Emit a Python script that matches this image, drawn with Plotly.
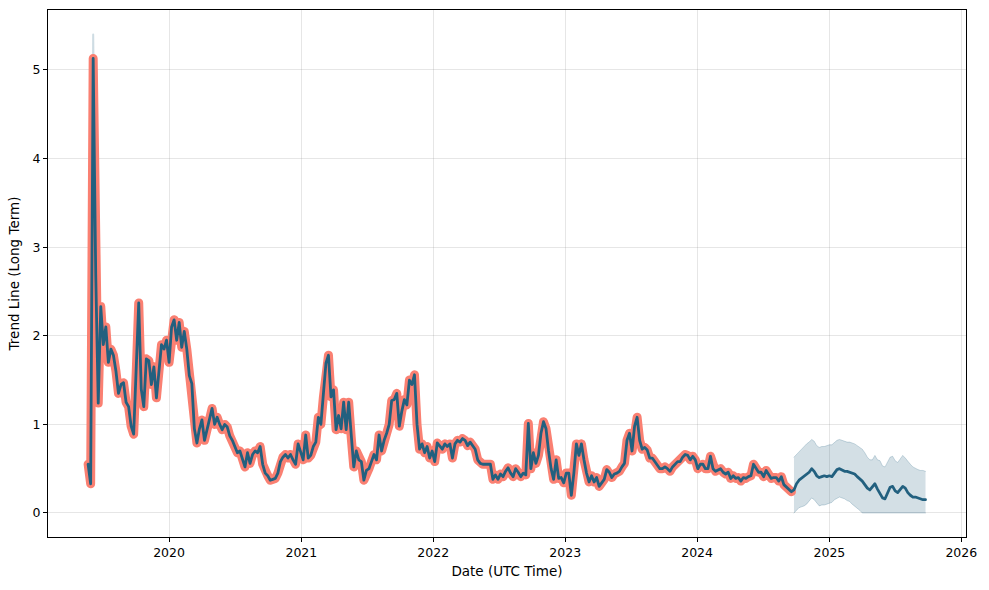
import pandas as pd
import plotly.graph_objects as go

# Historical weekly values (observed / fitted trend), starting 2019-05-22
hist_start = "2019-05-22"
hist_values = [
    0.55, 0.33, 5.13, 2.7, 1.24, 2.33, 1.9, 2.1, 1.7, 1.85,
    1.78, 1.6, 1.35, 1.45, 1.47, 1.25, 1.2, 0.98, 0.89, 1.58,
    2.37, 1.4, 1.2, 1.74, 1.72, 1.45, 1.65, 1.3, 1.6, 1.9,
    1.85, 1.95, 1.7, 2.1, 2.18, 1.95, 2.15, 1.87, 2.05, 1.85,
    1.55, 1.46, 0.95, 0.79, 0.95, 1.05, 0.82, 0.95, 1.05, 1.18,
    1.0, 1.08, 1.0, 0.94, 1.0, 0.97, 0.87, 0.82, 0.75, 0.68,
    0.7, 0.6, 0.52, 0.68, 0.56, 0.66, 0.7, 0.68, 0.75, 0.55,
    0.45, 0.42, 0.37, 0.38, 0.39, 0.45, 0.58, 0.63, 0.66, 0.62,
    0.66, 0.6, 0.55, 0.78, 0.68, 0.6, 0.88, 0.62, 0.65, 0.75,
    0.8, 1.08, 1.0, 1.31, 1.69, 1.78, 1.31, 1.39, 0.94, 1.1,
    0.95, 1.25, 0.94, 1.25, 0.85, 0.52, 0.7, 0.6, 0.58, 0.37,
    0.48, 0.5, 0.58, 0.66, 0.6, 0.88, 0.7, 0.82, 0.9, 1.0,
    1.27, 1.28, 1.35, 0.98, 1.15, 1.28, 1.22, 1.5, 1.45, 1.56,
    1.0, 0.72, 0.78, 0.68, 0.75, 0.62, 0.7, 0.58, 0.79, 0.75,
    0.72, 0.78, 0.75, 0.78, 0.62, 0.78, 0.82, 0.8, 0.84, 0.82,
    0.76, 0.8, 0.76, 0.72, 0.6, 0.56, 0.55, 0.55, 0.55, 0.55,
    0.38, 0.43, 0.38, 0.44, 0.41, 0.47, 0.51, 0.45, 0.41, 0.5,
    0.46, 0.41, 0.45, 0.43, 1.01, 0.5, 0.68, 0.56, 0.65, 0.9,
    1.03, 0.95, 0.7, 0.5, 0.38, 0.6, 0.39, 0.4, 0.34, 0.45,
    0.45, 0.2, 0.45, 0.78, 0.65, 0.78, 0.6, 0.45, 0.35, 0.42,
    0.35, 0.4, 0.3, 0.34, 0.38, 0.49, 0.46, 0.4, 0.44, 0.45,
    0.47, 0.52, 0.56, 0.82, 0.9, 0.7, 0.98, 1.08, 0.82, 0.72,
    0.74, 0.71, 0.62, 0.62, 0.58, 0.53, 0.5, 0.5, 0.52, 0.5,
    0.47, 0.52, 0.55, 0.58, 0.58, 0.63, 0.66, 0.65, 0.6, 0.64,
    0.6, 0.5, 0.55, 0.55, 0.5, 0.5, 0.64, 0.5, 0.47, 0.49,
    0.5, 0.46, 0.44, 0.46, 0.39, 0.42, 0.39, 0.4, 0.36, 0.4,
    0.39, 0.41, 0.42, 0.55, 0.5, 0.46, 0.46, 0.41, 0.48, 0.44,
    0.39, 0.4, 0.4, 0.36, 0.41, 0.32, 0.29, 0.26, 0.24,
]

# Forecast weekly values, starting 2024-09-25
fc_start = "2024-09-25"
fc_yhat = [
    0.26, 0.33, 0.37, 0.39, 0.41, 0.43, 0.46, 0.5, 0.47, 0.42,
    0.4, 0.41, 0.42, 0.41, 0.42, 0.41, 0.45, 0.49, 0.5, 0.48,
    0.47, 0.47, 0.46, 0.45, 0.44, 0.41, 0.39, 0.36, 0.32, 0.28,
    0.26, 0.3, 0.33, 0.27, 0.22, 0.17, 0.16, 0.22, 0.29, 0.3,
    0.25, 0.23, 0.26, 0.3, 0.28, 0.23, 0.2, 0.18, 0.18, 0.17,
    0.16, 0.15, 0.15,
]
fc_upper = [
    0.63, 0.66, 0.69, 0.72, 0.76, 0.78, 0.8, 0.83, 0.81, 0.76,
    0.74, 0.75, 0.75, 0.76, 0.77, 0.77, 0.8, 0.82, 0.83, 0.82,
    0.81, 0.8, 0.8, 0.79, 0.78, 0.76, 0.74, 0.72, 0.68, 0.63,
    0.6, 0.6, 0.65, 0.6, 0.59, 0.53, 0.52, 0.58, 0.63, 0.64,
    0.59, 0.57, 0.61, 0.65, 0.62, 0.58, 0.55, 0.52, 0.5, 0.49,
    0.48, 0.48, 0.47,
]
fc_lower = [
    0.0, 0.03, 0.06, 0.07, 0.08, 0.1, 0.13, 0.17, 0.15, 0.11,
    0.08, 0.09, 0.09, 0.1, 0.11, 0.12, 0.15, 0.17, 0.18, 0.17,
    0.16, 0.14, 0.13, 0.1, 0.08, 0.05, 0.03, 0.0, 0.0, 0.0,
    0.0, 0.0, 0.0, 0.0, 0.0, 0.0, 0.0, 0.0, 0.0, 0.0,
    0.0, 0.0, 0.0, 0.0, 0.0, 0.0, 0.0, 0.0, 0.0, 0.0,
    0.0, 0.0, 0.0,
]

# thin uncertainty sliver visible above the initial spike
spike_band_dates = ["2019-05-29", "2019-06-05", "2019-06-12"]
spike_band_upper = [0.4, 5.4, 2.8]

x_ticks = ["2020-01-01", "2021-01-01", "2022-01-01", "2023-01-01",
           "2024-01-01", "2025-01-01", "2026-01-01"]
x_tick_labels = ["2020", "2021", "2022", "2023", "2024", "2025", "2026"]
y_ticks = [0, 1, 2, 3, 4, 5]

hist_dates = pd.date_range(hist_start, periods=len(hist_values), freq="7D")
fc_dates = pd.date_range(fc_start, periods=len(fc_yhat), freq="7D")

LINE = "#22607f"
SALMON = "#fa8072"
BAND = "rgba(34,96,127,0.2)"
TICK_FS = 12.5
TITLE_FS = 13.5

fig = go.Figure()

fig.add_trace(go.Scatter(x=spike_band_dates, y=spike_band_upper, mode="lines",
                         line=dict(color="rgba(34,96,127,0.22)", width=2),
                         showlegend=False, hoverinfo="skip"))

# uncertainty band (forecast)
fig.add_trace(go.Scatter(x=fc_dates, y=fc_upper, mode="lines",
                         line=dict(color="rgba(34,96,127,0.22)", width=1),
                         showlegend=False, hoverinfo="skip"))
fig.add_trace(go.Scatter(x=fc_dates, y=fc_lower, mode="lines",
                         line=dict(color="rgba(34,96,127,0.22)", width=1),
                         fill="tonexty", fillcolor=BAND,
                         showlegend=False, hoverinfo="skip"))

# observed (thick salmon)
fig.add_trace(go.Scatter(x=hist_dates, y=hist_values, mode="lines",
                         line=dict(color=SALMON, width=9),
                         showlegend=False))

# trend line (history + forecast)
all_dates = list(hist_dates) + list(fc_dates)
all_vals = list(hist_values) + list(fc_yhat)
fig.add_trace(go.Scatter(x=all_dates, y=all_vals, mode="lines",
                         line=dict(color=LINE, width=2.8),
                         showlegend=False))

axis_common = dict(
    showline=True, linecolor="black", linewidth=1, mirror=True,
    ticks="outside", ticklen=4, tickwidth=1, tickcolor="black",
    showgrid=True, gridcolor="rgba(128,128,128,0.2)", gridwidth=1,
    zeroline=False,
    tickfont=dict(family="DejaVu Sans", size=TICK_FS, color="black"),
)

fig.update_layout(
    width=989, height=590,
    margin=dict(l=48, r=23, t=10, b=53),
    paper_bgcolor="white", plot_bgcolor="white",
    font=dict(family="DejaVu Sans", size=TICK_FS, color="black"),
    xaxis=dict(
        range=["2019-01-31", "2026-01-14"],
        tickmode="array", tickvals=x_ticks, ticktext=x_tick_labels,
        title=dict(text="Date (UTC Time)", font=dict(size=TITLE_FS), standoff=7),
        **axis_common,
    ),
    yaxis=dict(
        range=[-0.271, 5.677],
        tickmode="array", tickvals=y_ticks, ticktext=[str(v) for v in y_ticks],
        title=dict(text="Trend Line (Long Term)", font=dict(size=TITLE_FS), standoff=9),
        **axis_common,
    ),
)

post = """
document.querySelectorAll('.scatterlayer .js-line').forEach(function(p){
  p.style.strokeLinejoin = 'round';
  p.style.strokeLinecap = 'round';
});
"""

fig.write_html("out.html", post_script=post)
